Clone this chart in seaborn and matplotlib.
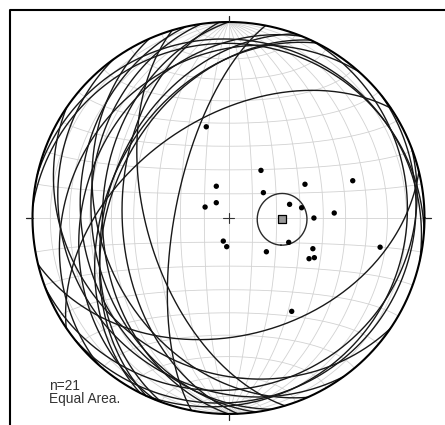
import numpy as np
import pandas as pd
import seaborn as sns
import matplotlib
matplotlib.use("Agg")
import matplotlib.pyplot as plt

pole_trend = [346.3, 34.3, 73.3, 66.2, 339.0, 54.0, 321.4, 295.1, 77.4, 82.0, 87.3,
              90.0, 192.7, 183.6, 112.0, 131.7, 110.0, 116.8, 114.8, 100.9, 145.9]
pole_plunge = [50.4, 66.0, 34.2, 54.9, 75.9, 72.1, 81.9, 79.3, 63.9, 59.1, 45.1,
               54.1, 80.2, 78.1, 62.9, 68.9, 52.2, 52.0, 50.1, 22.3, 42.0]

# vetor medio e cone de confianca
mean_trend = 91.4
mean_plunge = 67.6
alpha95 = 10.5

labels = ["n=21", "Equal Area."]


def vec(trend, plunge):
    t, p = np.radians(trend), np.radians(plunge)
    return np.array([np.sin(t) * np.cos(p), np.cos(t) * np.cos(p), -np.sin(p)])


def proj(v):
    # projecao de area igual, hemisferio inferior (raio 1)
    e, n, z = v
    f = 1 / np.sqrt(1 - np.minimum(z, 0))
    return e * f, n * f


def great_circle(s, d, npts=181):
    t = np.linspace(0, np.pi, npts)
    pts = np.outer(s, np.cos(t)) + np.outer(d, np.sin(t))
    return proj(pts)


# rede de Schmidt (10 graus)
linhas = []
k = 0
north = np.array([0.0, 1.0, 0.0])
for dip in range(10, 91, 10):
    for dd in ([90, 270] if dip < 90 else [90]):
        x, y = great_circle(north, vec(dd, dip))
        linhas.append(pd.DataFrame({"x": x, "y": y, "id": k}))
        k += 1
phi = np.linspace(np.pi, 2 * np.pi, 181)
for beta in range(10, 171, 10):
    b = np.radians(beta)
    v = np.array([np.sin(b) * np.cos(phi), np.cos(b) * np.ones_like(phi), np.sin(b) * np.sin(phi)])
    x, y = proj(v)
    linhas.append(pd.DataFrame({"x": x, "y": y, "id": k}))
    k += 1
grade = pd.concat(linhas)

# grandes circulos a partir dos polos
gc = []
for i, (tr, pl) in enumerate(zip(pole_trend, pole_plunge)):
    x, y = great_circle(vec(tr + 90, 0), vec(tr + 180, 90 - pl))
    gc.append(pd.DataFrame({"x": x, "y": y, "plano": i}))
planos = pd.concat(gc)

px, py = proj(np.array([vec(t, p) for t, p in zip(pole_trend, pole_plunge)]).T)
polos = pd.DataFrame({"x": px, "y": py})

# cone de confianca
m = vec(mean_trend, mean_plunge)
u = vec(mean_trend + 90, 0)
w = np.cross(m, u)
a = np.radians(alpha95)
ang = np.linspace(0, 2 * np.pi, 241)
cone = np.outer(m, np.cos(a) * np.ones_like(ang)) + np.sin(a) * (np.outer(u, np.cos(ang)) + np.outer(w, np.sin(ang)))
cx, cy = proj(cone)
mx, my = proj(m)

sns.set_style("white")
plt.rcParams["font.family"] = ["Liberation Sans", "DejaVu Sans"]

fig = plt.figure(figsize=(4.45, 4.25), dpi=100)
ax = fig.add_axes([0, 0, 1, 1])

sns.lineplot(data=grade, x="x", y="y", units="id", estimator=None, sort=False,
             color="#d2d2d2", lw=0.6, ax=ax, legend=False)
sns.lineplot(data=planos, x="x", y="y", units="plano", estimator=None, sort=False,
             color="#181818", lw=1.0, ax=ax, legend=False)

t = np.linspace(0, 2 * np.pi, 400)
ax.plot(np.cos(t), np.sin(t), color="black", lw=1.5)
tk = 0.032
for dx, dy in [(0, 1), (1, 0), (0, -1), (-1, 0)]:
    ax.plot([dx, dx * (1 + tk)], [dy, dy * (1 + tk)], color="#222222", lw=0.9)
c = 0.028
ax.plot([-c, c], [0, 0], color="#333333", lw=0.8)
ax.plot([0, 0], [-c, c], color="#333333", lw=0.8)

ax.plot(cx, cy, color="#2a2a2a", lw=1.0, zorder=4)
sns.scatterplot(data=polos, x="x", y="y", color="black", s=15, edgecolor="none",
                ax=ax, legend=False, zorder=5)
ax.scatter([mx], [my], marker="s", s=36, facecolor="#9a9a9a", edgecolor="black", linewidth=0.9, zorder=6)

ax.text(-0.916, -0.821, "\n".join(labels), fontsize=9.9, color="#333333",
        va="top", ha="left", linespacing=0.95)

# moldura (cortada a direita e embaixo)
fx, fy = 9.5 / 445, 1 - 9.5 / 425
ax.plot([fx, fx, 1.01], [-0.01, fy, fy], color="black", lw=1.5, transform=ax.transAxes, clip_on=False)

ax.set_xlim((0 - 228.5) / 196, (445 - 228.5) / 196)
ax.set_ylim((218 - 425) / 196, 218 / 196)
ax.set_axis_off()

fig.savefig("out.png", dpi=100)
